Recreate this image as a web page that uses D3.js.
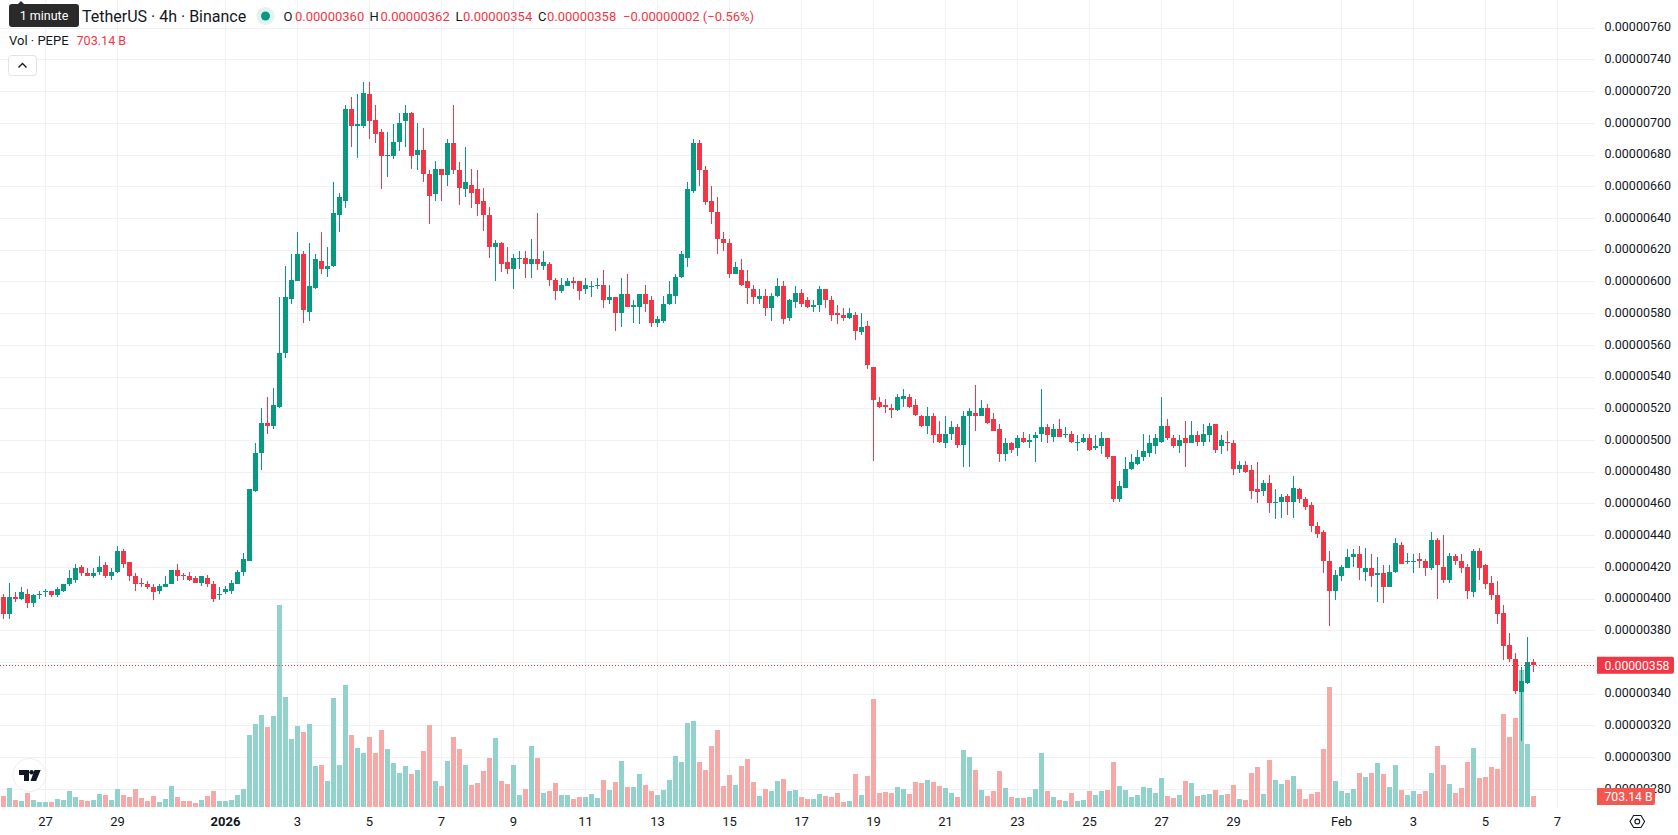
<!DOCTYPE html>
<html>
<head>
<meta charset="utf-8">
<title>PEPE / TetherUS 4h</title>
<script src="https://cdnjs.cloudflare.com/ajax/libs/d3/7.8.5/d3.min.js"></script>
<style>
  html, body { margin: 0; padding: 0; background: #fff; overflow: hidden; }
  svg { display: block; font-family: Roboto, "Noto Sans", sans-serif; }
</style>
</head>
<body>
<svg id="chart" width="1678" height="835"></svg>
<script>
// 4-hour candles, prices in units of 0.00000001 USDT, volumes in billions of PEPE.
const opens = [
  401,390,401,400,403,397,402,404,405,402,
  405,409,412,420,416,414,417,421,414,417,
  430,423,414,410,409,407,405,407,409,418,
  415,414,413,410,413,409,402,404,405,409,
  417,424,468,492,511,509,521,555,589,600,
  617,581,596,613,608,610,642,651,709,698,
  698,718,702,694,679,679,688,701,706,680,
  683,668,655,671,667,687,670,658,661,658,
  651,642,622,624,612,608,615,615,611,614,
  610,611,601,594,597,600,600,595,597,597,
  598,588,590,580,592,584,584,592,588,574,
  575,586,591,603,615,657,687,670,651,644,
  627,624,605,607,600,595,589,591,583,591,
  597,577,587,593,588,584,585,595,588,580,
  579,577,579,568,572,546,524,522,520,519,
  526,527,522,515,509,515,504,498,504,508,
  497,515,517,515,520,513,507,491,498,495,
  501,499,501,504,508,502,507,503,504,498,
  499,501,495,496,501,490,463,470,482,485,
  489,492,496,499,509,501,496,501,498,503,
  499,503,510,496,499,498,482,484,481,469,
  468,473,460,461,465,461,469,463,459,446,
  442,424,405,414,419,426,428,417,419,415,
  416,407,417,434,423,423,425,424,419,437,
  420,412,427,424,420,404,430,421,410,402,
  391,371,362,341,347,360
];
const highs = [
  403,410,404,407,406,403,405,406,405,407,
  409,418,422,421,419,419,427,423,419,433,
  431,423,416,413,411,409,409,414,418,422,
  416,417,414,414,415,411,407,408,412,418,
  429,469,498,520,527,533,590,610,617,631,
  619,624,617,631,622,663,656,711,716,718,
  726,726,711,696,694,699,706,711,707,700,
  697,670,676,671,690,711,675,685,671,670,
  659,647,626,625,622,617,619,619,627,643,
  619,612,602,602,602,603,600,602,600,602,
  607,598,590,602,605,588,592,598,591,578,
  591,600,605,619,663,690,689,673,660,653,
  631,627,612,614,607,598,595,595,593,602,
  600,589,597,595,590,588,597,595,591,585,
  583,583,581,580,575,546,527,526,523,529,
  532,529,526,516,521,517,512,515,512,510,
  518,520,535,525,523,517,510,501,499,503,
  505,504,505,532,510,510,513,508,506,503,
  504,504,503,505,501,490,474,489,491,494,
  504,503,504,527,513,503,503,512,512,506,
  510,511,510,503,506,500,487,487,484,486,
  475,478,469,466,466,477,470,464,461,448,
  443,430,418,421,431,431,433,432,428,426,
  421,421,438,436,429,428,429,425,442,438,
  440,429,428,428,422,431,432,422,414,411,
  396,378,366,357,376,362
];
const lows = [
  387,387,398,399,394,395,400,401,401,401,
  404,408,410,414,414,413,415,413,412,416,
  419,411,405,407,406,399,403,407,409,411,
  412,411,410,408,407,398,399,403,403,409,
  414,424,467,481,504,507,520,552,586,600,
  574,575,595,605,603,609,631,646,685,678,
  697,690,687,658,666,677,682,685,671,670,
  663,636,651,651,660,668,648,653,646,641,
  632,615,600,606,605,595,608,602,602,607,
  607,597,588,593,597,595,588,592,590,595,
  583,586,569,571,584,574,573,581,571,571,
  574,585,586,602,609,656,660,648,636,617,
  619,602,605,597,586,586,586,578,575,590,
  573,575,583,584,583,581,581,583,575,573,
  575,576,563,566,545,487,520,517,514,518,
  521,520,515,508,504,498,498,495,500,495,
  483,483,506,515,510,506,486,487,492,490,
  498,495,486,499,498,499,502,501,498,493,
  498,493,494,491,488,461,461,470,481,484,
  487,489,491,498,500,495,492,483,498,496,
  496,499,492,491,493,478,479,479,463,460,
  465,454,450,451,453,451,460,456,442,438,
  416,383,399,411,419,420,412,411,407,398,
  397,407,416,422,422,416,419,414,418,400,
  410,410,421,416,400,401,412,406,399,384,
  361,360,340,310,346,354
];
const closes = [
  390,401,400,404,397,402,403,405,402,406,
  409,413,419,416,414,416,420,414,417,430,
  422,414,409,409,407,404,408,409,418,414,
  414,412,410,414,409,400,403,406,410,417,
  425,469,492,511,509,522,555,590,601,617,
  582,597,614,608,610,643,653,709,698,699,
  719,701,693,679,680,688,700,706,679,683,
  668,654,671,667,687,670,659,663,656,649,
  642,622,624,611,608,615,615,611,614,611,
  612,601,594,598,600,599,594,598,597,598,
  588,590,580,592,584,585,592,586,574,576,
  586,592,603,617,658,687,670,650,644,627,
  624,605,609,598,596,590,591,583,591,597,
  576,588,593,586,584,585,595,588,579,579,
  577,580,569,571,547,525,521,521,519,527,
  528,521,516,509,515,503,499,504,508,497,
  515,518,515,520,511,506,491,498,494,501,
  499,500,503,508,503,507,502,504,499,499,
  501,494,496,501,489,463,471,482,486,489,
  493,498,501,509,501,496,500,498,503,499,
  504,509,494,500,498,482,484,480,468,467,
  473,460,461,464,461,470,463,458,446,441,
  424,405,415,420,426,428,419,419,414,416,
  407,417,435,422,424,424,424,419,437,421,
  412,427,424,419,405,430,419,409,402,390,
  370,362,342,348,360,358
];
const volumes = [
  703,1214,447,383,895,447,320,320,320,511,
  447,1022,639,447,383,447,831,767,447,1150,
  767,639,1150,575,383,703,320,511,1342,639,
  383,383,256,447,703,1022,383,383,447,767,
  1150,4601,5304,5879,5112,5815,12908,7029,4345,5176,
  4793,5304,2620,2684,1661,6965,2684,7796,4601,3770,
  3451,4473,3451,4920,3706,2812,2173,2620,2109,2364,
  3578,5240,1661,1342,2939,4473,3706,2684,1406,1534,
  2300,3131,4409,1661,1470,2684,767,1150,3898,3131,
  895,1022,1534,767,767,511,639,639,831,575,
  1725,1086,1598,2939,1278,1278,2109,1406,1022,767,
  1086,1725,3259,2876,5368,5495,2876,2364,3898,4920,
  1342,2045,1406,2620,3067,1598,703,1150,1022,1661,
  1789,1022,1086,639,511,511,831,703,639,895,
  320,383,2109,767,1981,6901,895,959,895,1278,
  1150,831,1598,1534,1725,1598,1342,1214,895,639,
  3642,3195,2364,1086,703,1022,2300,1214,639,575,
  575,639,1150,3451,1022,639,447,383,895,383,
  447,1022,767,1022,1086,2876,1342,1086,639,767,
  1278,1214,895,1853,703,575,767,1661,1534,703,
  767,831,1086,767,831,1406,511,447,2173,2556,
  831,3003,1725,1470,1725,1981,1150,511,831,959,
  3706,7668,1661,1022,895,1150,2173,1917,2173,2812,
  2109,1278,2684,1086,767,1022,831,1022,2173,3898,
  2684,1470,895,1214,2876,3770,1853,1917,2556,2428,
  5943,4473,5687,8754,4026,703.14
];

// Price gridlines and labels; the 360 level stays unlabelled because the last-price tag sits on it.
const priceGrid = [760,740,720,700,680,660,640,620,600,580,560,540,520,500,480,460,440,420,400,380,360,340,320,300,280];
const priceLabels = [760,740,720,700,680,660,640,620,600,580,560,540,520,500,480,460,440,420,400,380,340,320,300,280];
const dateTicks = [
  ["2025-12-27","27"],["2025-12-29","29"],["2026-01-01","2026"],["2026-01-03","3"],
  ["2026-01-05","5"],["2026-01-07","7"],["2026-01-09","9"],["2026-01-11","11"],
  ["2026-01-13","13"],["2026-01-15","15"],["2026-01-17","17"],["2026-01-19","19"],
  ["2026-01-21","21"],["2026-01-23","23"],["2026-01-25","25"],["2026-01-27","27"],
  ["2026-01-29","29"],["2026-02-01","Feb"],["2026-02-03","3"],["2026-02-05","5"],
  ["2026-02-07","7"]
];
const firstBar = Date.UTC(2025, 11, 25, 20);
const barSpan = 4 * 3600 * 1000;
const lastClose = closes[closes.length - 1];
const lastVolume = volumes[volumes.length - 1];
const upColor = "#089981", downColor = "#f23645";
const upVolume = "#92d2cc", downVolume = "#f7a9a7";

const formatPrice = p => (p / 1e8).toFixed(8);

const x = d3.scaleUtc()
  .domain([new Date(firstBar), new Date(firstBar + 255 * barSpan)])
  .range([3.5, 1533.5]);
const y = d3.scaleLinear().domain([280, 760]).range([788.9, 27.7]);
const yVol = d3.scaleLinear().domain([0, 12908]).range([807, 605]);

const bars = opens.map((o, i) => ({
  t: new Date(firstBar + i * barSpan),
  o, h: highs[i], l: lows[i], c: closes[i], v: volumes[i], up: closes[i] >= o
}));

const svg = d3.select("#chart");
const plotRight = 1595, plotBottom = 808;

// Grid
const grid = svg.append("g").attr("shape-rendering", "crispEdges").attr("stroke", "#f1f1f2");
grid.selectAll(".gy").data(priceGrid).join("line")
  .attr("x1", 0).attr("x2", plotRight)
  .attr("y1", d => Math.round(y(d)) + 0.5).attr("y2", d => Math.round(y(d)) + 0.5);
grid.selectAll(".gx").data(dateTicks).join("line")
  .attr("y1", 0).attr("y2", plotBottom)
  .attr("x1", d => x(new Date(d[0] + "T00:00:00Z"))).attr("x2", d => x(new Date(d[0] + "T00:00:00Z")));

const barLeft = d => Math.floor(x(d.t)) - 2;

// Volume columns sit behind the candles
svg.append("g").attr("shape-rendering", "crispEdges")
  .selectAll("rect").data(bars).join("rect")
  .attr("x", barLeft).attr("width", 5)
  .attr("y", d => yVol(d.v)).attr("height", d => yVol(0) - yVol(d.v))
  .attr("fill", d => d.up ? upVolume : downVolume);

// Candles
const candles = svg.append("g").attr("shape-rendering", "crispEdges");
candles.selectAll(".wick").data(bars).join("rect")
  .attr("x", d => Math.floor(x(d.t))).attr("width", 1)
  .attr("y", d => Math.round(y(d.h)))
  .attr("height", d => Math.max(1, Math.round(y(d.l)) - Math.round(y(d.h))))
  .attr("fill", d => d.up ? upColor : downColor);
candles.selectAll(".body").data(bars).join("rect")
  .attr("x", barLeft).attr("width", 5)
  .attr("y", d => Math.round(y(Math.max(d.o, d.c))))
  .attr("height", d => Math.max(1, Math.round(y(Math.min(d.o, d.c))) - Math.round(y(Math.max(d.o, d.c)))))
  .attr("fill", d => d.up ? upColor : downColor);

// Last-price line
svg.append("line")
  .attr("x1", 0).attr("x2", plotRight)
  .attr("y1", Math.round(y(lastClose)) + 0.5).attr("y2", Math.round(y(lastClose)) + 0.5)
  .attr("stroke", downColor).attr("stroke-dasharray", "1 2").attr("shape-rendering", "crispEdges");

// Price axis labels
const axisFont = 12.5;
svg.append("g").selectAll("text").data(priceLabels).join("text")
  .attr("x", 1604.5).attr("y", d => y(d) - 0.8)
  .attr("dy", "0.36em").attr("font-size", axisFont).attr("fill", "#131722")
  .text(formatPrice);

// Last price and last volume tags
function tag(x0, yMid, w, h, fill, label, size) {
  svg.append("path")
    .attr("d", `M${x0},${yMid - h / 2}h${w - 2}a2,2 0 0 1 2,2v${h - 4}a2,2 0 0 1 -2,2h${-(w - 2)}z`)
    .attr("fill", fill);
  svg.append("text").attr("x", x0 + 7.5).attr("y", yMid).attr("dy", "0.36em")
    .attr("font-size", size).attr("fill", "#fff").text(label);
}
tag(1597, y(lastClose), 77, 17, "#f23645", formatPrice(lastClose), 12.2);
tag(1597, 796.5, 58, 17, "#f35750", "703.14 B", 12.2);

// Date axis labels
svg.append("g").selectAll("text").data(dateTicks).join("text")
  .attr("x", d => x(new Date(d[0] + "T00:00:00Z")))
  .attr("y", 821.7).attr("dy", "0.36em").attr("text-anchor", "middle")
  .attr("font-size", 13).attr("fill", "#131722")
  .attr("font-weight", d => d[1] === "2026" ? 700 : 400)
  .text(d => d[1]);

// Legend: symbol line
const legend = svg.append("g").attr("font-size", 13);
legend.append("text").attr("x", 82).attr("y", 16).attr("dy", "0.36em")
  .attr("font-size", 16).attr("fill", "#131722").text("TetherUS · 4h · Binance");
legend.append("circle").attr("cx", 265.5).attr("cy", 16).attr("r", 9).attr("fill", "#e0f3ef");
legend.append("circle").attr("cx", 265.5).attr("cy", 16).attr("r", 4.5).attr("fill", upColor);
const ohlc = [
  ["O", 283.5, 295, "0.00000360"],
  ["H", 369.5, 380.5, "0.00000362"],
  ["L", 455.5, 463, "0.00000354"],
  ["C", 538, 547, "0.00000358"]
];
ohlc.forEach(([k, xk, xv, val]) => {
  legend.append("text").attr("x", xk).attr("y", 16).attr("dy", "0.36em").attr("fill", "#131722").text(k);
  legend.append("text").attr("x", xv).attr("y", 16).attr("dy", "0.36em").attr("fill", downColor).text(val);
});
legend.append("text").attr("x", 623).attr("y", 16).attr("dy", "0.36em")
  .attr("fill", downColor).text("−0.00000002 (−0.56%)");

// Legend: volume line
legend.append("text").attr("x", 9).attr("y", 40).attr("dy", "0.36em").attr("fill", "#131722").text("Vol · PEPE");
legend.append("text").attr("x", 76.5).attr("y", 40).attr("dy", "0.36em").attr("font-size", 12.6).attr("fill", downColor).text("703.14 B");

// Collapse button
svg.append("rect").attr("x", 8.5).attr("y", 55.5).attr("width", 28).attr("height", 20).attr("rx", 3)
  .attr("fill", "#fff").attr("stroke", "#e0e3eb");
svg.append("path").attr("d", "M18.5,67.5l4,-4l4,4").attr("fill", "none").attr("stroke", "#131722").attr("stroke-width", 1.3);

// Tooltip over the symbol name
svg.append("path").attr("d", "M18,4l3,-3l3,3z").attr("fill", "#2a2a2a");
svg.append("rect").attr("x", 9).attr("y", 4).attr("width", 70).attr("height", 23).attr("rx", 3).attr("fill", "#2a2a2a");
svg.append("text").attr("x", 44).attr("y", 15.5).attr("dy", "0.36em").attr("text-anchor", "middle")
  .attr("font-size", 12.5).attr("fill", "#fff").text("1 minute");

// Brand badge
svg.append("circle").attr("cx", 29.5).attr("cy", 775).attr("r", 16.5)
  .attr("fill", "#fff").attr("stroke", "#eeeeee").attr("stroke-width", 1);
svg.append("path").attr("fill", "#131722")
  .attr("d", "M19,770h10v11h-5v-6h-5z M34.5,770h6.2l-4.6,11h-5.6z");
svg.append("circle").attr("cx", 31.6).attr("cy", 772.3).attr("r", 2.3).attr("fill", "#131722");

// Scale settings icon
svg.append("path").attr("fill", "none").attr("stroke", "#131722").attr("stroke-width", 1.1)
  .attr("d", "M1630,821.5l3.6,-6h7.4l3.6,6l-3.6,6h-7.4z");
svg.append("circle").attr("cx", 1637.3).attr("cy", 821.5).attr("r", 2.4)
  .attr("fill", "none").attr("stroke", "#131722").attr("stroke-width", 1.1);
</script>
</body>
</html>
